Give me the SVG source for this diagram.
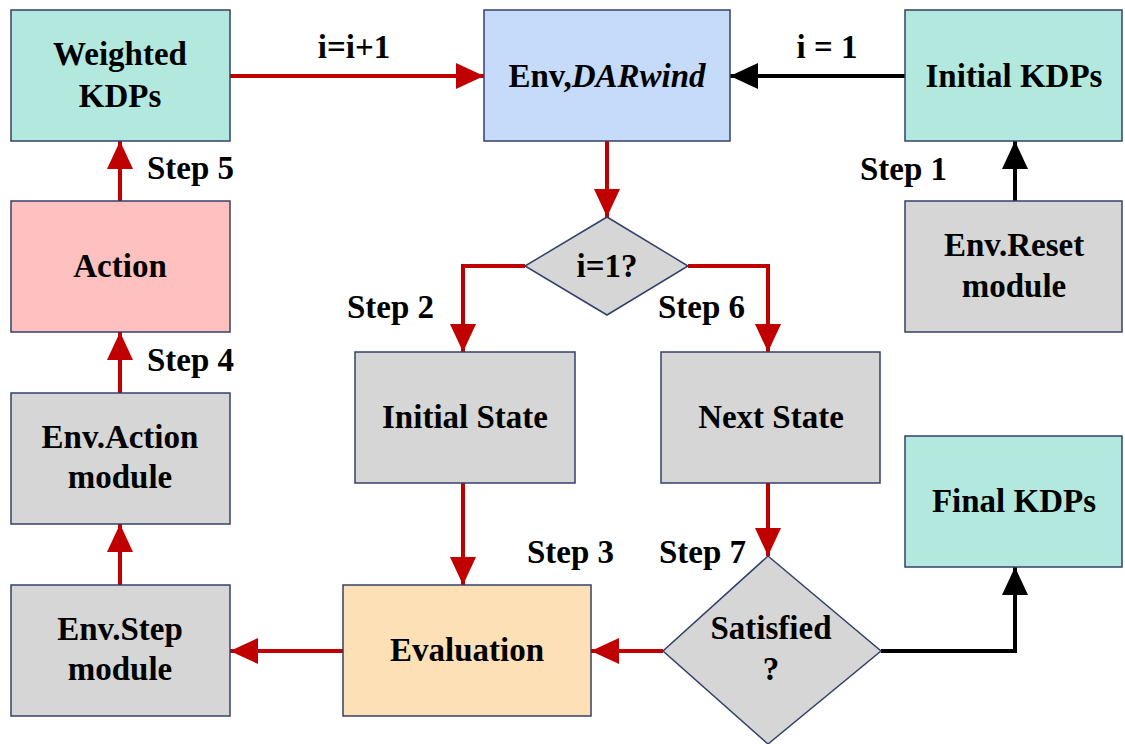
<svg xmlns="http://www.w3.org/2000/svg" width="1125" height="744" viewBox="0 0 1125 744">
  <defs>
    <marker id="ar" markerUnits="userSpaceOnUse" markerWidth="28" markerHeight="28" refX="28" refY="14" orient="auto">
      <path d="M0,1 L28,14 L0,27 z" fill="#c00000"/>
    </marker>
    <marker id="ab" markerUnits="userSpaceOnUse" markerWidth="28" markerHeight="28" refX="28" refY="14" orient="auto">
      <path d="M0,1 L28,14 L0,27 z" fill="#000"/>
    </marker>
  </defs>
  <rect width="1125" height="744" fill="#fff"/>

  <!-- connectors and their step labels -->
  <g id="connectors">
    <g stroke="#c00000" stroke-width="4" fill="none" marker-end="url(#ar)">
      <path d="M230,76 H484"/>
      <path d="M607,141 V217"/>
      <path d="M525,266 H463 V352"/>
      <path d="M688,266 H768 V352"/>
      <path d="M120,201 V141"/>
      <path d="M120,393 V332"/>
      <path d="M120,585 V524"/>
      <path d="M463,483 V585"/>
      <path d="M343,651 H230"/>
      <path d="M768,483 V556"/>
      <path d="M663,651 H591"/>
    </g>
    <g stroke="#000" stroke-width="4" fill="none" marker-end="url(#ab)">
      <path d="M905,76 H730"/>
      <path d="M1015,201 V141"/>
      <path d="M881,651 H1015 V567"/>
    </g>
    <text style="font-family:'Times New Roman','Liberation Serif',serif" font-size="33" font-weight="bold" text-anchor="middle" x="354" y="58">i=i+1</text>
    <text style="font-family:'Times New Roman','Liberation Serif',serif" font-size="33" font-weight="bold" text-anchor="middle" x="827" y="58">i = 1</text>
    <text style="font-family:'Times New Roman','Liberation Serif',serif" font-size="33" font-weight="bold" x="147" y="179">Step 5</text>
    <text style="font-family:'Times New Roman','Liberation Serif',serif" font-size="33" font-weight="bold" x="147" y="371">Step 4</text>
    <text style="font-family:'Times New Roman','Liberation Serif',serif" font-size="33" font-weight="bold" x="860" y="180">Step 1</text>
    <text style="font-family:'Times New Roman','Liberation Serif',serif" font-size="33" font-weight="bold" x="347" y="318">Step 2</text>
    <text style="font-family:'Times New Roman','Liberation Serif',serif" font-size="33" font-weight="bold" x="658" y="318">Step 6</text>
    <text style="font-family:'Times New Roman','Liberation Serif',serif" font-size="33" font-weight="bold" x="527" y="563">Step 3</text>
    <text style="font-family:'Times New Roman','Liberation Serif',serif" font-size="33" font-weight="bold" x="659" y="563">Step 7</text>
  </g>

  <g id="weighted-kdps">
    <rect fill="#b3e8df" stroke="#34406a" stroke-width="1.5" x="11" y="10" width="219" height="131"/>
    <text style="font-family:'Times New Roman','Liberation Serif',serif" font-size="33" font-weight="bold" text-anchor="middle" x="120" y="65">Weighted</text>
    <text style="font-family:'Times New Roman','Liberation Serif',serif" font-size="33" font-weight="bold" text-anchor="middle" x="120" y="107">KDPs</text>
  </g>
  <g id="env-darwind">
    <rect fill="#c6dbfa" stroke="#34406a" stroke-width="1.5" x="484" y="10" width="246" height="131"/>
    <text style="font-family:'Times New Roman','Liberation Serif',serif" font-size="33" font-weight="bold" text-anchor="middle" x="607" y="87">Env,<tspan font-style="italic">DARwind</tspan></text>
  </g>
  <g id="initial-kdps">
    <rect fill="#b3e8df" stroke="#34406a" stroke-width="1.5" x="905" y="10" width="217" height="131"/>
    <text style="font-family:'Times New Roman','Liberation Serif',serif" font-size="33" font-weight="bold" text-anchor="middle" x="1014" y="87">Initial KDPs</text>
  </g>
  <g id="env-reset">
    <rect fill="#d6d6d6" stroke="#34406a" stroke-width="1.5" x="905" y="201" width="217" height="131"/>
    <text style="font-family:'Times New Roman','Liberation Serif',serif" font-size="33" font-weight="bold" text-anchor="middle" x="1014" y="256">Env.Reset</text>
    <text style="font-family:'Times New Roman','Liberation Serif',serif" font-size="33" font-weight="bold" text-anchor="middle" x="1014" y="297">module</text>
  </g>
  <g id="action">
    <rect fill="#ffc0c0" stroke="#34406a" stroke-width="1.5" x="11" y="201" width="219" height="131"/>
    <text style="font-family:'Times New Roman','Liberation Serif',serif" font-size="33" font-weight="bold" text-anchor="middle" x="120" y="277">Action</text>
  </g>
  <g id="check-first">
    <polygon fill="#d6d6d6" stroke="#34406a" stroke-width="1.5" points="607,217 688,266 607,315 525,266"/>
    <text style="font-family:'Times New Roman','Liberation Serif',serif" font-size="33" font-weight="bold" text-anchor="middle" x="607" y="277">i=1?</text>
  </g>
  <g id="initial-state">
    <rect fill="#d6d6d6" stroke="#34406a" stroke-width="1.5" x="355" y="352" width="220" height="131"/>
    <text style="font-family:'Times New Roman','Liberation Serif',serif" font-size="33" font-weight="bold" text-anchor="middle" x="465" y="428">Initial State</text>
  </g>
  <g id="next-state">
    <rect fill="#d6d6d6" stroke="#34406a" stroke-width="1.5" x="661" y="352" width="219" height="131"/>
    <text style="font-family:'Times New Roman','Liberation Serif',serif" font-size="33" font-weight="bold" text-anchor="middle" x="771" y="428">Next State</text>
  </g>
  <g id="env-action">
    <rect fill="#d6d6d6" stroke="#34406a" stroke-width="1.5" x="11" y="393" width="219" height="131"/>
    <text style="font-family:'Times New Roman','Liberation Serif',serif" font-size="33" font-weight="bold" text-anchor="middle" x="120" y="448">Env.Action</text>
    <text style="font-family:'Times New Roman','Liberation Serif',serif" font-size="33" font-weight="bold" text-anchor="middle" x="120" y="488">module</text>
  </g>
  <g id="final-kdps">
    <rect fill="#b3e8df" stroke="#34406a" stroke-width="1.5" x="905" y="436" width="217" height="131"/>
    <text style="font-family:'Times New Roman','Liberation Serif',serif" font-size="33" font-weight="bold" text-anchor="middle" x="1014" y="512">Final KDPs</text>
  </g>
  <g id="env-step">
    <rect fill="#d6d6d6" stroke="#34406a" stroke-width="1.5" x="11" y="585" width="219" height="131"/>
    <text style="font-family:'Times New Roman','Liberation Serif',serif" font-size="33" font-weight="bold" text-anchor="middle" x="120" y="640">Env.Step</text>
    <text style="font-family:'Times New Roman','Liberation Serif',serif" font-size="33" font-weight="bold" text-anchor="middle" x="120" y="680">module</text>
  </g>
  <g id="evaluation">
    <rect fill="#fde0b5" stroke="#34406a" stroke-width="1.5" x="343" y="585" width="248" height="131"/>
    <text style="font-family:'Times New Roman','Liberation Serif',serif" font-size="33" font-weight="bold" text-anchor="middle" x="467" y="661">Evaluation</text>
  </g>
  <g id="satisfied">
    <polygon fill="#d6d6d6" stroke="#34406a" stroke-width="1.5" points="768,556 881,651 768,744 663,651"/>
    <text style="font-family:'Times New Roman','Liberation Serif',serif" font-size="33" font-weight="bold" text-anchor="middle" x="771" y="639">Satisfied</text>
    <text style="font-family:'Times New Roman','Liberation Serif',serif" font-size="33" font-weight="bold" text-anchor="middle" x="771" y="680">?</text>
  </g>
</svg>
